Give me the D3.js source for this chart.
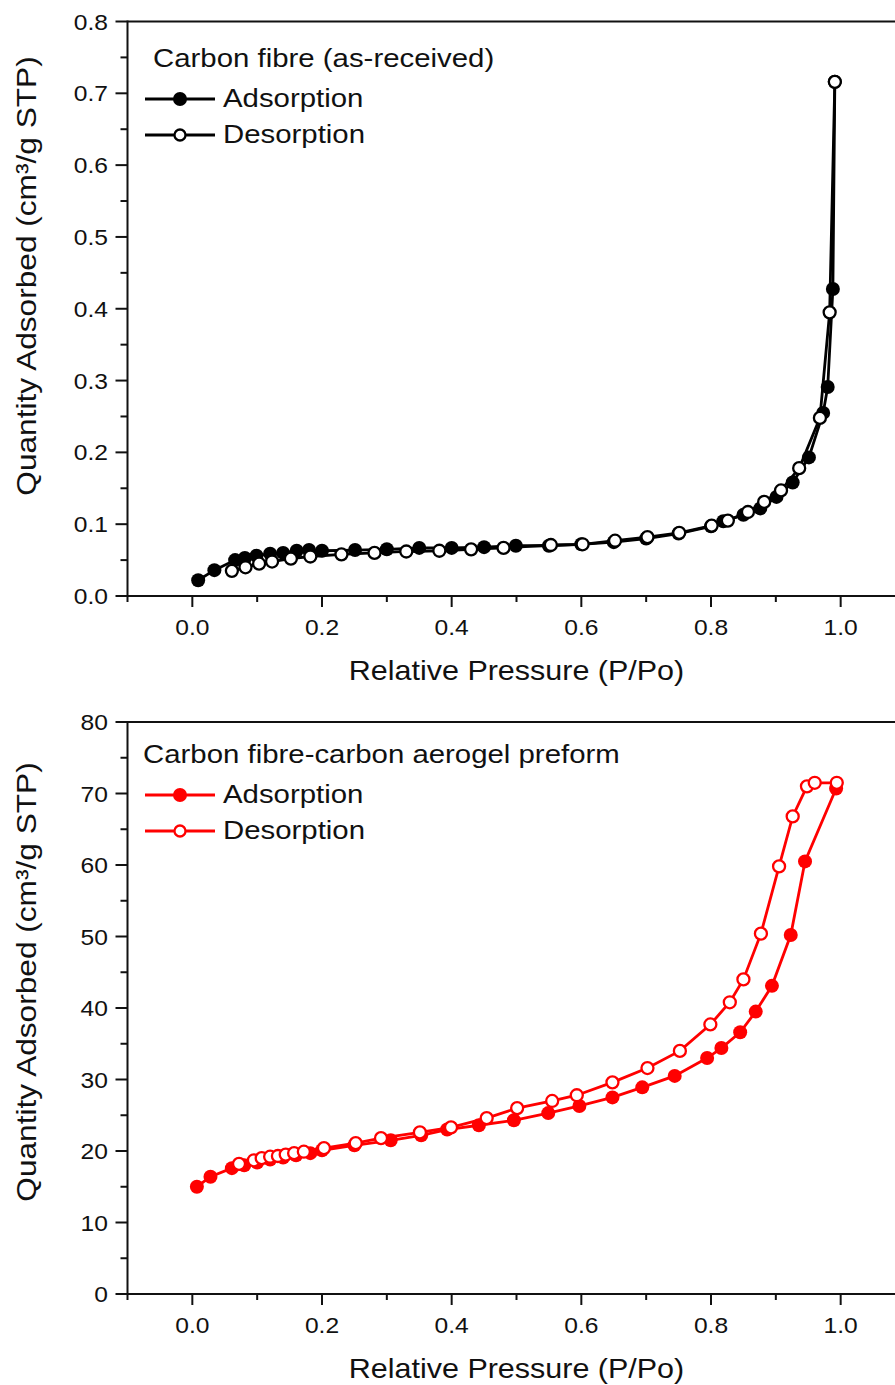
<!DOCTYPE html>
<html lang="en">
<head>
<meta charset="UTF-8">
<title>N2 isotherms</title>
<style>
  body { margin: 0; background: #fff; }
  text { font-family: "Liberation Sans", Arial, sans-serif; fill: #111; }
</style>
<script src="https://cdn.jsdelivr.net/npm/d3@7/dist/d3.min.js"></script>
</head>
<body>
<svg width="895" height="1385"></svg>
<script>
// carbon fibre (as-received)
var fibreAdsX = [0.009,0.034,0.066,0.081,0.099,0.120,0.140,0.161,0.180,0.200,0.251,0.300,0.350,0.400,0.450,0.499,0.550,0.600,0.650,0.700,0.750,0.800,0.819,0.850,0.876,0.901,0.926,0.951,0.973,0.980,0.988,0.991];
var fibreAdsY = [0.022,0.036,0.050,0.053,0.056,0.059,0.060,0.063,0.064,0.063,0.064,0.065,0.067,0.067,0.068,0.070,0.070,0.072,0.075,0.080,0.087,0.097,0.104,0.113,0.122,0.138,0.158,0.193,0.255,0.291,0.4275,0.716];
var fibreDesX = [0.061,0.082,0.103,0.123,0.152,0.182,0.230,0.281,0.330,0.381,0.430,0.480,0.553,0.602,0.652,0.702,0.751,0.801,0.826,0.857,0.882,0.908,0.936,0.968,0.983,0.991];
var fibreDesY = [0.035,0.040,0.045,0.048,0.052,0.055,0.058,0.060,0.062,0.063,0.065,0.067,0.071,0.072,0.077,0.082,0.088,0.098,0.105,0.117,0.131,0.147,0.178,0.248,0.395,0.716];

// carbon fibre-carbon aerogel preform
var aeroAdsX = [0.007,0.028,0.061,0.080,0.100,0.120,0.140,0.160,0.182,0.200,0.250,0.306,0.353,0.393,0.442,0.496,0.549,0.597,0.648,0.694,0.744,0.794,0.816,0.845,0.869,0.894,0.923,0.945,0.993];
var aeroAdsY = [15.0,16.4,17.6,18.0,18.4,18.8,19.1,19.4,19.7,20.1,20.8,21.5,22.2,23.0,23.6,24.3,25.3,26.3,27.5,28.9,30.5,33.0,34.4,36.6,39.5,43.1,50.2,60.5,70.7];
var aeroDesX = [0.072,0.095,0.107,0.120,0.132,0.144,0.157,0.172,0.203,0.252,0.291,0.351,0.399,0.454,0.501,0.555,0.593,0.648,0.702,0.752,0.799,0.829,0.850,0.877,0.905,0.926,0.948,0.960,0.994];
var aeroDesY = [18.2,18.7,19.0,19.2,19.3,19.5,19.7,19.9,20.4,21.1,21.8,22.6,23.3,24.6,26.0,27.0,27.8,29.6,31.6,34.0,37.7,40.8,44.0,50.4,59.8,66.8,71.0,71.5,71.5];

var xMajor = [0.0,0.2,0.4,0.6,0.8,1.0];
var xMinor = [-0.1,0.1,0.3,0.5,0.7,0.9,1.1];
var fibreYMajor = [0.0,0.1,0.2,0.3,0.4,0.5,0.6,0.7,0.8];
var fibreYMinor = [0.05,0.15,0.25,0.35,0.45,0.55,0.65,0.75];
var aeroYMajor = [0,10,20,30,40,50,60,70,80];
var aeroYMinor = [5,15,25,35,45,55,65,75];

var svg = d3.select("svg");
var W = 895;

function zip(xs, ys) { return xs.map(function(x, i) { return [x, ys[i]]; }); }

function txt(g, x, y, s, size, sx, anchor, rot) {
  return g.append("text")
    .attr("transform", "translate(" + x + "," + y + ")" + (rot ? " rotate(" + rot + ")" : "") + " scale(" + sx + ",1)")
    .attr("text-anchor", anchor || "start")
    .style("font-size", size + "px")
    .text(s);
}

function panel(p) {
  var g = svg.append("g");
  var x = d3.scaleLinear().domain([-0.1, 1.1]).range([127.5, 905.5]);
  var y = d3.scaleLinear().domain(p.yDomain).range([p.bottom, p.top]);
  var left = x(-0.1);

  // frame: top line, left axis, bottom axis
  g.append("line").attr("x1", left).attr("x2", W).attr("y1", p.top).attr("y2", p.top)
    .attr("stroke", "#111").attr("stroke-width", 2);
  g.append("line").attr("x1", left).attr("x2", left).attr("y1", p.top - 1).attr("y2", p.bottom + 1)
    .attr("stroke", "#111").attr("stroke-width", 2);
  g.append("line").attr("x1", left).attr("x2", W).attr("y1", p.bottom).attr("y2", p.bottom)
    .attr("stroke", "#111").attr("stroke-width", 2);

  xMajor.forEach(function(v) {
    g.append("line").attr("x1", x(v)).attr("x2", x(v)).attr("y1", p.bottom).attr("y2", p.bottom + 11)
      .attr("stroke", "#111").attr("stroke-width", 2);
    txt(g, x(v), p.bottom + 39, d3.format(".1f")(v), 22, 1.12, "middle");
  });
  xMinor.forEach(function(v) {
    g.append("line").attr("x1", x(v)).attr("x2", x(v)).attr("y1", p.bottom).attr("y2", p.bottom + 6)
      .attr("stroke", "#111").attr("stroke-width", 2);
  });
  p.yMajor.forEach(function(v) {
    g.append("line").attr("x1", left - 12).attr("x2", left).attr("y1", y(v)).attr("y2", y(v))
      .attr("stroke", "#111").attr("stroke-width", 2);
    txt(g, 108, y(v) + 8, p.yFmt(v), 22, 1.12, "end");
  });
  p.yMinor.forEach(function(v) {
    g.append("line").attr("x1", left - 7).attr("x2", left).attr("y1", y(v)).attr("y2", y(v))
      .attr("stroke", "#111").attr("stroke-width", 2);
  });

  txt(g, x(0.5), p.bottom + 84, "Relative Pressure (P/Po)", 28.5, 1.07, "middle");
  txt(g, 36, p.yTitleMid, "Quantity Adsorbed (cm\u00b3/g STP)", 28.5, 1.11, "middle", -90);

  var line = d3.line().x(function(d) { return x(d[0]); }).y(function(d) { return y(d[1]); });
  var ads = zip(p.adsX, p.adsY), des = zip(p.desX, p.desY);
  g.append("path").datum(ads).attr("d", line).attr("fill", "none").attr("stroke", p.color).attr("stroke-width", 2.8);
  g.append("path").datum(des).attr("d", line).attr("fill", "none").attr("stroke", p.color).attr("stroke-width", 2.8);
  g.selectAll(".ads").data(ads).enter().append("circle")
    .attr("cx", function(d) { return x(d[0]); }).attr("cy", function(d) { return y(d[1]); })
    .attr("r", 7).attr("fill", p.color);
  g.selectAll(".des").data(des).enter().append("circle")
    .attr("cx", function(d) { return x(d[0]); }).attr("cy", function(d) { return y(d[1]); })
    .attr("r", 6).attr("fill", "#fff").attr("stroke", p.color).attr("stroke-width", 2.3);

  // legend
  txt(g, p.legX, p.legY, p.title, 26, 1.13, "start");
  [["Adsorption", true], ["Desorption", false]].forEach(function(e, i) {
    var ly = p.legY + 32 + i * 36;
    g.append("line").attr("x1", 145).attr("x2", 215).attr("y1", ly).attr("y2", ly)
      .attr("stroke", p.color).attr("stroke-width", 2.8);
    if (e[1]) g.append("circle").attr("cx", 180).attr("cy", ly).attr("r", 7).attr("fill", p.color);
    else g.append("circle").attr("cx", 180).attr("cy", ly).attr("r", 5.5).attr("fill", "#fff")
      .attr("stroke", p.color).attr("stroke-width", 2.3);
    txt(g, 223, ly + 8, e[0], 26, 1.13, "start");
  });
}

panel({
  top: 21.5, bottom: 596, yDomain: [0, 0.8], yMajor: fibreYMajor, yMinor: fibreYMinor,
  yFmt: d3.format(".1f"), color: "#000", title: "Carbon fibre (as-received)",
  legX: 153, legY: 67, yTitleMid: 276,
  adsX: fibreAdsX, adsY: fibreAdsY, desX: fibreDesX, desY: fibreDesY
});
panel({
  top: 722, bottom: 1294, yDomain: [0, 80], yMajor: aeroYMajor, yMinor: aeroYMinor,
  yFmt: d3.format("d"), color: "#ff0000", title: "Carbon fibre-carbon aerogel preform",
  legX: 143, legY: 763, yTitleMid: 982,
  adsX: aeroAdsX, adsY: aeroAdsY, desX: aeroDesX, desY: aeroDesY
});
</script>
</body>
</html>
